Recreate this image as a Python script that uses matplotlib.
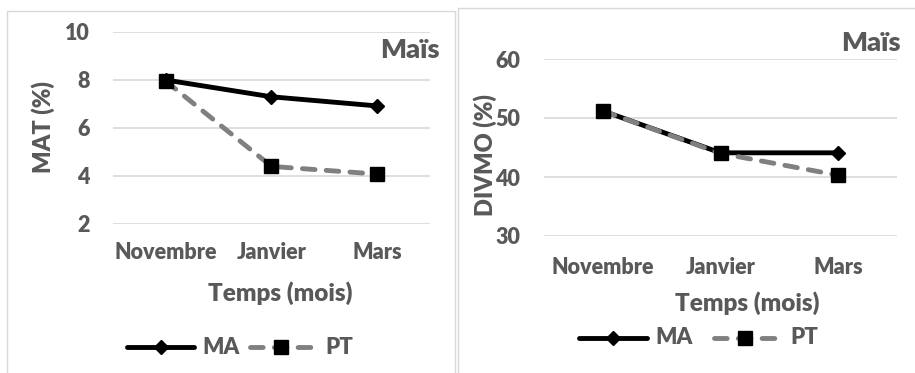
import matplotlib
matplotlib.use("Agg")
import matplotlib.pyplot as plt
from matplotlib.patches import Rectangle

months = ["Novembre", "Janvier", "Mars"]
mat_ma = [8.0, 7.3, 6.92]
mat_pt = [7.95, 4.4, 4.08]
divmo_ma = [51.2, 44.1, 44.1]
divmo_pt = [51.2, 44.0, 40.3]
mat_ticks = [2, 4, 6, 8, 10]
divmo_ticks = [30, 40, 50, 60]

W, H = 915, 373
fig = plt.figure(figsize=(W / 100, H / 100), dpi=100)
FONT = "Lato"
WEIGHT = "heavy"
TXT = "#595959"
GRID = "#d9d9d9"
GREY = "#808080"
LW = 3.5
DASH = (0, (2.6, 2.3))


def fx(x):
    return x / W


def fy(y):
    return 1 - y / H


def axes_px(x0, y0, x1, y1):
    return fig.add_axes([fx(x0), fy(y1), (x1 - x0) / W, (y1 - y0) / H])


# panel borders
fig.add_artist(Rectangle((fx(7), fy(380)), (455 - 7) / W, (380 - 11) / H,
                         transform=fig.transFigure, fill=False, ec=GRID, lw=1))
fig.add_artist(Rectangle((fx(458), fy(380)), (920 - 458) / W, (380 - 8) / H,
                         transform=fig.transFigure, fill=False, ec=GRID, lw=1))


def draw(ax, ma, pt, ticks, ylim):
    x = list(range(len(months)))
    ax.plot(x, ma, color="black", lw=LW, marker="D", ms=7.5, mfc="black",
            mec="black", solid_capstyle="round", zorder=3)
    ax.plot(x, pt, color=GREY, lw=LW, ls=DASH, dash_capstyle="round",
            marker="s", ms=10.5, mfc="black", mec="black", zorder=4)
    ax.set_xlim(-0.5, len(months) - 0.5)
    ax.set_ylim(*ylim)
    ax.set_yticks(ticks)
    ax.set_xticks(x)
    ax.set_xticklabels(months)
    ax.grid(axis="y", color=GRID, lw=1.2)
    ax.set_axisbelow(True)
    for s in ax.spines.values():
        s.set_visible(False)
    ax.tick_params(length=0, labelsize=15.5, labelcolor=TXT)
    for lab in ax.get_xticklabels() + ax.get_yticklabels():
        lab.set_fontfamily(FONT)
        lab.set_fontweight(WEIGHT)
    ax.patch.set_alpha(0)


ax1 = axes_px(113, 32, 430, 224)
draw(ax1, mat_ma, mat_pt, mat_ticks, (2, 10))
ax1.tick_params(axis="y", pad=17)
ax1.tick_params(axis="x", pad=13)

ax2 = axes_px(544, 59, 897, 236)
draw(ax2, divmo_ma, divmo_pt, divmo_ticks, (30, 60))
ax2.tick_params(axis="y", pad=17)
ax2.tick_params(axis="x", pad=15)

tk = dict(fontfamily=FONT, fontweight=WEIGHT, color=TXT)
fig.text(fx(410), fy(50), "Maïs", fontsize=19.5, ha="center", va="center", **tk)
fig.text(fx(871), fy(43), "Maïs", fontsize=19.5, ha="center", va="center", **tk)
fig.text(fx(43), fy(127), "MAT (%)", fontsize=17, rotation=90, ha="center", va="center", **tk)
fig.text(fx(485), fy(155), "DIVMO (%)", fontsize=17, rotation=90, ha="center", va="center", **tk)
fig.text(fx(280), fy(293), "Temps (mois)", fontsize=17.5, ha="center", va="center", **tk)
fig.text(fx(747), fy(303), "Temps (mois)", fontsize=17.5, ha="center", va="center", **tk)


def legend(x_ma0, x_ma1, x_pt0, x_pt1, y, xt_ma, xt_pt):
    lax = fig.add_axes([0, 0, 1, 1])
    lax.set_xlim(0, W)
    lax.set_ylim(H, 0)
    lax.axis("off")
    lax.plot([x_ma0, x_ma1], [y, y], color="black", lw=LW, solid_capstyle="round")
    lax.plot([(x_ma0 + x_ma1) / 2], [y], marker="D", ms=7.5, color="black")
    lax.plot([x_pt0, x_pt1], [y, y], color=GREY, lw=LW, ls=DASH,
             dash_capstyle="round")
    lax.plot([(x_pt0 + x_pt1) / 2], [y], marker="s", ms=10.5, color="black")
    lax.text(xt_ma, y, "MA", fontsize=16, va="center", ha="left", **tk)
    lax.text(xt_pt, y, "PT", fontsize=16, va="center", ha="left", **tk)


legend(127, 194, 250, 312, 347, 202, 325)
legend(579, 647, 714, 775, 338, 655, 790)

fig.savefig("out.png", dpi=100)
